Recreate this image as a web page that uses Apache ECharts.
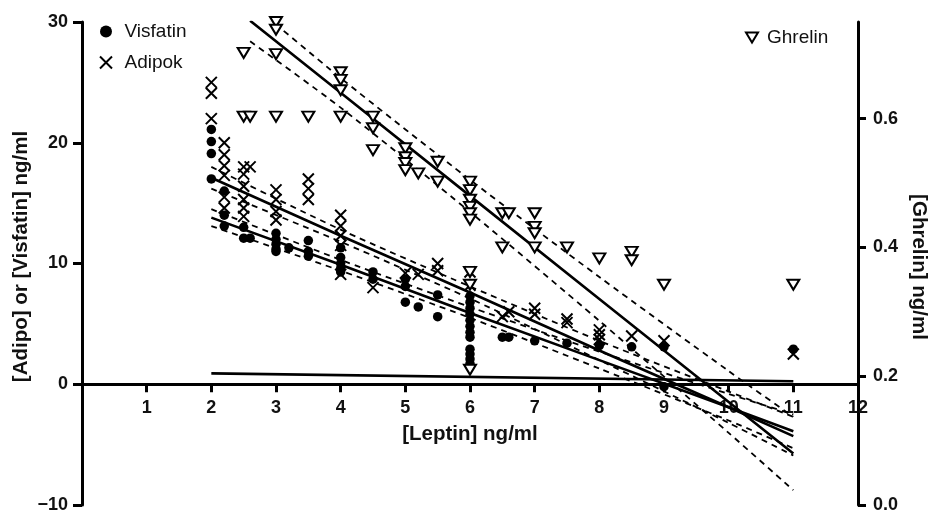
<!DOCTYPE html>
<html>
<head>
<meta charset="utf-8">
<script src="https://cdn.jsdelivr.net/npm/echarts@6/dist/echarts.min.js"></script>
<style>
html,body{margin:0;padding:0;background:#fff;}
#chart{width:928px;height:511px;}
</style>
</head>
<body>
<div id="chart"></div>
<script>
// ---- scatter data (x = [Leptin], y = concentration) ----
const visfatin = [
  [2,21.1],[2,20.1],[2,19.1],[2,17.0],
  [2.2,16.0],[2.2,14.0],[2.2,13.1],
  [2.5,13.0],[2.5,12.1],[2.6,12.1],
  [3,12.5],[3,12.0],[3,11.6],[3,11.2],[3,11.0],
  [3.2,11.3],
  [3.5,11.9],[3.5,11.0],[3.5,10.6],
  [4,11.3],[4,10.5],[4,10.0],[4,9.6],[4,9.3],
  [4.5,9.3],[4.5,8.7],
  [5,8.7],[5,8.1],[5,6.8],
  [5.2,6.4],
  [5.5,7.4],[5.5,5.6],
  [6,7.3],[6,6.8],[6,6.3],[6,5.8],[6,5.3],[6,4.8],[6,4.3],[6,3.9],[6,2.9],[6,2.5],[6,2.1],[6,1.7],
  [6.5,3.9],[6.6,3.9],
  [7,3.6],[7.5,3.4],[8,3.2],[8.5,3.1],[9,3.1],[9,-0.2],[11,2.9]
];
const adipok = [
  [2,25.0],[2,24.1],[2,22.0],
  [2.2,20.0],[2.2,19.0],[2.2,18.1],[2.2,17.3],[2.2,15.5],[2.2,14.6],
  [2.5,18.0],[2.6,18.0],[2.5,17.4],[2.5,16.4],[2.5,15.3],[2.5,14.6],[2.5,13.9],
  [3,16.1],[3,15.3],[3,14.3],[3,13.6],
  [3.5,17.0],[3.5,16.2],[3.5,15.3],
  [4,14.0],[4,13.1],[4,12.3],[4,11.5],[4,9.1],
  [4.5,8.0],
  [5,9.2],[5.2,9.1],[5.5,10.0],[5.5,9.4],
  [6,9.3],[6,8.2],
  [6.5,5.6],[6.6,6.0],
  [7,6.3],[7,5.8],
  [7.5,5.4],[7.5,5.1],
  [8,4.5],[8,4.1],[8,3.7],
  [8.5,4.0],[9,3.6],[11,2.5]
];
const ghrelin = [
  [2.5,0.702],[2.5,0.603],[2.6,0.603],
  [3,0.75],[3,0.738],[3,0.70],[3,0.603],
  [3.5,0.603],
  [4,0.672],[4,0.66],[4,0.644],[4,0.603],
  [4.5,0.603],[4.5,0.585],[4.5,0.551],
  [5,0.554],[5,0.540],[5,0.531],[5,0.52],
  [5.2,0.515],
  [5.5,0.533],[5.5,0.502],
  [6,0.502],[6,0.489],[6,0.474],[6,0.463],[6,0.453],[6,0.443],[6,0.362],[6,0.342],[6,0.21],
  [6.5,0.453],[6.5,0.40],[6.6,0.453],
  [7,0.453],[7,0.432],[7,0.422],[7,0.40],
  [7.5,0.40],[8,0.383],[8.5,0.393],[8.5,0.38],[9,0.342],[11,0.342]
];

// ---- regression lines and confidence bands ----
const fitX          = [2, 4, 6, 8, 10, 11];
const adipokFit     = [17.1, 12.3, 7.6, 2.8, -1.9, -4.3];
const adipokUpper   = [18.0, 12.8, 8.1, 3.6, -0.6, -2.7];
const adipokLower   = [16.2, 11.8, 7.1, 2.0, -3.2, -5.9];
const visfatinFit   = [13.8, 9.9, 5.9, 2.0, -1.9, -3.9];
const visfatinUpper = [14.5, 10.3, 6.4, 2.7, -0.8, -2.5];
const visfatinLower = [13.1, 9.4, 5.5, 1.3, -3.0, -5.3];
const ghrelinX      = [2.6, 4, 6, 8, 10, 11];
const ghrelinFit    = [0.752, 0.64, 0.48, 0.32, 0.16, 0.08];
const ghrelinUpper  = [0.78, 0.663, 0.505, 0.354, 0.208, 0.137];
const ghrelinLower  = [0.72, 0.617, 0.455, 0.286, 0.112, 0.023];
const flatX         = [2, 11];
const flatY         = [0.9, 0.25];

const zip = (xs, ys) => xs.map((x, i) => [x, ys[i]]);

const FONT = '"Liberation Sans", Arial, sans-serif';
const crossPath = 'path://M0,0L10,10M10,0L0,10';
const triPath = 'path://M0,0L12,0L6,10Z';

// grid geometry
const GRID_TOP = 22, GRID_BOTTOM = 6, H = 511;
const Y_MIN = -10, Y_MAX = 30;
const plotH = H - GRID_TOP - GRID_BOTTOM;
// shift x axis up from grid bottom to the y = 0 level of the left axis
const xAxisOffset = -plotH * (0 - Y_MIN) / (Y_MAX - Y_MIN);

function fitLine(name, data, yIdx, dashed) {
  return {
    name: name, type: 'line', yAxisIndex: yIdx, data: data,
    showSymbol: false, symbol: 'none', smooth: dashed ? 0.25 : false,
    silent: true, z: 2,
    lineStyle: dashed ? {color: '#000', width: 1.8, type: [6, 5]} : {color: '#000', width: 2.6}
  };
}

const nameStyle = {fontFamily: FONT, fontSize: 20.5, fontWeight: 'bold', color: '#111'};

const chart = echarts.init(document.getElementById('chart'), null, {renderer: 'canvas'});
chart.setOption({
  animation: false,
  backgroundColor: '#fff',
  grid: {left: 82, right: 70, top: GRID_TOP, bottom: GRID_BOTTOM, containLabel: false, outerBoundsMode: 'none'},
  legend: [
    {
      data: ['Visfatin', 'Adipok'], orient: 'vertical', left: 94, top: 16,
      itemGap: 10, itemWidth: 13, itemHeight: 12,
      textStyle: {fontFamily: FONT, fontSize: 19, color: '#111', lineHeight: 21, padding: [0, 0, 0, 7]}
    },
    {
      data: ['Ghrelin'], left: 740, top: 23,
      itemWidth: 12, itemHeight: 10,
      textStyle: {fontFamily: FONT, fontSize: 19, color: '#111', padding: [0, 0, 0, 4]}
    }
  ],
  xAxis: {
    type: 'value', min: 0, max: 12, interval: 1, position: 'bottom', offset: xAxisOffset,
    name: '[Leptin] ng/ml', nameLocation: 'middle', nameGap: 40, nameMoveOverlap: false,
    nameTextStyle: nameStyle,
    axisLine: {onZero: false, lineStyle: {color: '#000', width: 3}},
    axisTick: {show: true, length: 8, lineStyle: {color: '#000', width: 3}},
    axisLabel: {fontFamily: FONT, fontSize: 18, fontWeight: 'bold', color: '#111', margin: 15,
      formatter: v => (v === 0 ? '' : String(v))},
    splitLine: {show: false}
  },
  yAxis: [
    {
      type: 'value', min: Y_MIN, max: Y_MAX, interval: 10, position: 'left',
      name: '[Adipo] or [Visfatin] ng/ml', nameLocation: 'middle', nameGap: 50, nameRotate: 90,
      nameMoveOverlap: false,
      nameTextStyle: Object.assign({}, nameStyle, {padding: [0, 0, 0, 14]}),
      axisLine: {show: true, onZero: false, lineStyle: {color: '#000', width: 3}},
      axisTick: {show: true, length: 9, lineStyle: {color: '#000', width: 3}},
      axisLabel: {fontFamily: FONT, fontSize: 18, fontWeight: 'bold', color: '#111', margin: 14,
        formatter: v => (v < 0 ? '\u2212' + Math.abs(v) : String(v))},
      splitLine: {show: false}
    },
    {
      type: 'value', min: 0, max: 0.75, interval: 0.2, position: 'right',
      name: '[Ghrelin] ng/ml', nameLocation: 'middle', nameGap: 50, nameRotate: -90,
      nameMoveOverlap: false,
      nameTextStyle: Object.assign({}, nameStyle, {padding: [0, 0, 0, 7]}),
      axisLine: {show: true, onZero: false, lineStyle: {color: '#000', width: 3}},
      axisTick: {show: true, length: 8, lineStyle: {color: '#000', width: 3}},
      axisLabel: {fontFamily: FONT, fontSize: 18, fontWeight: 'bold', color: '#111', margin: 15,
        formatter: v => v.toFixed(1), showMaxLabel: false},
      splitLine: {show: false}
    }
  ],
  series: [
    fitLine('flat', zip(flatX, flatY), 0, false),
    fitLine('adipokFit', zip(fitX, adipokFit), 0, false),
    fitLine('adipokUpper', zip(fitX, adipokUpper), 0, true),
    fitLine('adipokLower', zip(fitX, adipokLower), 0, true),
    fitLine('visfatinFit', zip(fitX, visfatinFit), 0, false),
    fitLine('visfatinUpper', zip(fitX, visfatinUpper), 0, true),
    fitLine('visfatinLower', zip(fitX, visfatinLower), 0, true),
    fitLine('ghrelinFit', zip(ghrelinX, ghrelinFit), 1, false),
    fitLine('ghrelinUpper', zip(ghrelinX, ghrelinUpper), 1, true),
    fitLine('ghrelinLower', zip(ghrelinX, ghrelinLower), 1, true),
    {
      name: 'Visfatin', type: 'scatter', yAxisIndex: 0, data: visfatin,
      symbol: 'circle', symbolSize: 9.5, z: 5,
      itemStyle: {color: '#000', borderColor: '#000', borderWidth: 0, opacity: 1}
    },
    {
      name: 'Adipok', type: 'scatter', yAxisIndex: 0, data: adipok,
      symbol: crossPath, symbolSize: 11, z: 4,
      itemStyle: {color: 'rgba(0,0,0,0)', borderColor: '#000', borderWidth: 2, opacity: 1}
    },
    {
      name: 'Ghrelin', type: 'scatter', yAxisIndex: 1, data: ghrelin,
      symbol: triPath, symbolSize: [12, 10], z: 6,
      itemStyle: {color: '#fff', borderColor: '#000', borderWidth: 2, opacity: 1}
    }
  ]
});
</script>
</body>
</html>
